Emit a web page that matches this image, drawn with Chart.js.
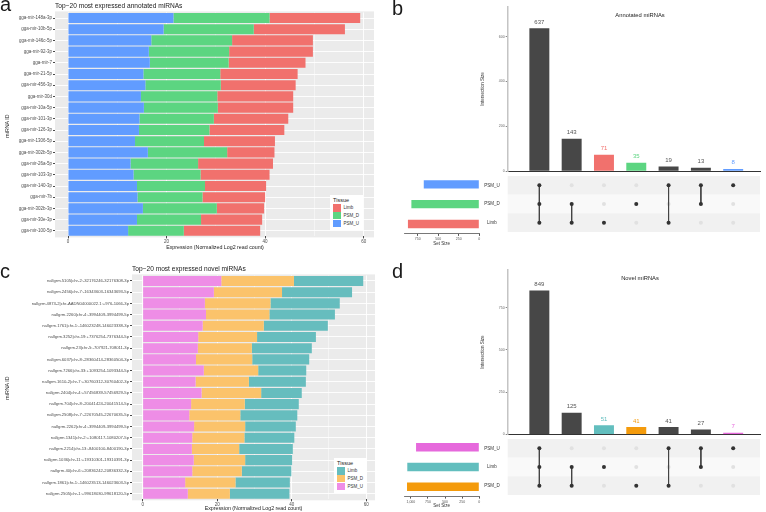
<!DOCTYPE html>
<html>
<head>
<meta charset="utf-8">
<script src="https://cdn.jsdelivr.net/npm/chart.js@4/dist/chart.umd.min.js"></script>
<style>
body{margin:0;width:766px;height:512px;position:relative;background:#fff;overflow:hidden;font-family:"Liberation Sans",Arial,sans-serif}
canvas{position:absolute}
.t{position:absolute;line-height:1;white-space:nowrap;color:#1a1a1a}
.lg{position:absolute;background:#fff;padding:2px 3px;width:27px;height:31px}
.lt{font-size:5.5px;line-height:7px;color:#1a1a1a}
.li{font-size:4.5px;line-height:7.8px;height:7.8px;display:flex;align-items:center;color:#333}
.li span{width:7.5px;height:7.5px;margin-right:3px;display:inline-block}
</style>
</head>
<body>
<canvas id="chartA" width="380" height="256" style="left:0;top:0"></canvas>
<canvas id="chartC" width="380" height="250" style="left:0;top:262px"></canvas>
<canvas id="barsB" width="286" height="176" style="left:480px;top:0"></canvas>
<canvas id="matB" width="286" height="64" style="left:480px;top:172px"></canvas>
<canvas id="setsB" width="90" height="74" style="left:395px;top:172px"></canvas>
<canvas id="barsD" width="286" height="176" style="left:480px;top:262px"></canvas>
<canvas id="matD" width="286" height="64" style="left:480px;top:435px"></canvas>
<canvas id="setsD" width="90" height="73" style="left:395px;top:435px"></canvas>
<script>
// --- dane: top-20 annotated miRNAs (a) ---
const annoLabels = ['gga-mir-148a-3p','gga-mir-10b-5p','gga-mir-146c-5p','gga-mir-92-3p','gga-mir-7',
  'gga-mir-21-5p','gga-mir-456-3p','gga-mir-30d','gga-mir-10a-5p','gga-mir-101-3p',
  'gga-mir-126-3p','gga-mir-1306-5p','gga-mir-302b-5p','gga-mir-26a-5p','gga-mir-103-3p',
  'gga-mir-140-3p','gga-mir-7b','gga-mir-302b-3p','gga-mir-30e-3p','gga-mir-100-5p'];
const annoPsmU = [21.4,19.4,16.9,16.4,16.6,15.3,15.7,14.8,15.4,14.5,14.4,13.6,16.2,12.7,13.3,14.0,14.1,15.2,14.0,12.2];
const annoPsmD = [19.5,18.3,16.4,16.3,16.0,15.6,15.3,15.5,15.0,15.1,14.3,14.0,16.1,13.7,13.6,13.8,13.2,15.0,13.0,11.3];
const annoLimb = [18.4,18.5,16.4,17.0,15.6,15.7,15.2,15.4,15.3,15.1,15.2,14.4,9.6,15.2,14.0,12.4,12.7,9.6,12.4,15.5];

// --- dane: top-20 novel miRNAs (c) ---
const novelLabels = ['nallgrm.5105|chr-2:-32176246-32176308-3p','nallgrm.2456|chr-7:-16343603-16343693-5p',
  'nallgrm.4873-2|chr-AADN04000022.1:+976-1066-3p','nallgrm.2260|chr-4:-3994409-3994499-5p',
  'nallgrm.1761|chr-1:-146023248-146023338-3p','nallgrm.3252|chr-19:+7376254-7376344-5p',
  'nallgrm.23|chr-5:-707921-708011-3p','nallgrm.6037|chr-8:-28360414-28360504-3p',
  'nallgrm.7266|chr-33:+1093254-1093344-5p','nallgrm.1610-2|chr-7:+30760312-30760402-3p',
  'nallgrm.2404|chr-4:+57456839-57456929-5p','nallgrm.704|chr-8:-20041424-20041514-5p',
  'nallgrm.2508|chr-7:-22670545-22670635-5p','nallgrm.2262|chr-4:-3994409-3994499-5p',
  'nallgrm.1341|chr-2:+1080117-1080207-5p','nallgrm.2214|chr-13:-8400100-8400190-3p',
  'nallgrm.1036|chr-11:+19310301-19310391-3p','nallgrm.40|chr-6:+20836242-20836332-3p',
  'nallgrm.1861|chr-1:-146023513-146023603-5p','nallgrm.2505|chr-1:+99618030-99618120-5p'];
const novelPsmU = [21.1,19.1,16.7,17.0,16.1,14.9,14.8,14.3,16.4,14.2,15.8,13.0,12.5,13.8,13.3,13.2,13.7,13.3,11.4,12.1];
const novelPsmD = [19.5,18.3,17.6,17.0,16.4,15.8,14.5,15.1,14.6,14.3,16.0,14.4,13.7,13.7,14.0,12.7,13.8,13.3,13.5,11.3];
const novelLimb = [18.6,18.8,18.6,17.6,17.2,15.8,16.1,15.3,12.9,15.3,10.9,14.5,15.3,13.6,13.4,14.4,12.6,13.3,14.6,16.0];

// --- dane: UpSet (b, d) ---
const annoSets = ['PSM_U','PSM_D','Limb'];
const annoSetSizes = [677, 828, 870];
const annoInter = [637, 143, 71, 35, 19, 13, 8];
const annoMembers = [[0,1,2],[1,2],[2],[1],[0,2],[0,1],[0]];

const novelSets = ['PSM_U','Limb','PSM_D'];
const novelSetSizes = [924, 1052, 1056];
const novelInter = [849, 125, 51, 41, 41, 27, 7];
const novelMembers = [[0,1,2],[1,2],[1],[2],[0,2],[0,1],[0]];

const xTicks = [0,10,20,30,40,50,60];

// kolory
const cRed = '#F1716D', cGreen = '#5CD581', cBlue = '#619CFF';
const cTeal = '#66BDBE', cOrange = '#FBC36B', cPink = '#EE8DE6';
const cTealD = '#62BEBE', cOrangeD = '#F49B0C', cPinkD = '#E669DC';
const cDark = '#474747';

Chart.defaults.font.family = '"Liberation Sans", Arial, sans-serif';
Chart.defaults.animation = false;
Chart.defaults.plugins.legend.display = false;
Chart.defaults.plugins.tooltip.enabled = false;

// szare tło panelu jak w ggplot
const panelBg = {
  id: 'panelBg',
  beforeDraw(chart) {
    const a = chart.chartArea, c = chart.ctx;
    c.save();
    c.fillStyle = '#EBEBEB';
    c.fillRect(a.left, a.top - 1, a.right - a.left, a.bottom - a.top + 2);
    c.restore();
  }
};

function stackChart(id, labels, series, g) {
  return new Chart(document.getElementById(id), {
    type: 'bar',
    data: {
      labels: labels,
      datasets: series.map(s => ({ label: s.name, data: s.data, backgroundColor: s.color,
        categoryPercentage: 0.9, barPercentage: 1, borderWidth: 0 }))
    },
    options: {
      indexAxis: 'y', responsive: false, devicePixelRatio: 1,
      layout: { padding: { top: g.top, right: g.right, left: 0, bottom: 0 } },
      scales: {
        x: {
          stacked: true, min: g.min, max: g.max,
          afterBuildTicks: s => { s.ticks = xTicks.map(v => ({ value: v })); },
          afterFit: s => { s.height = g.xh; },
          grid: {
            color: '#fff',
            lineWidth: c => (c.tick && c.tick.value % 20 === 0) ? 0.9 : 0.45,
            tickLength: 2,
            tickColor: c => (c.tick && c.tick.value % 20 === 0) ? '#333' : 'rgba(0,0,0,0)'
          },
          border: { display: false },
          ticks: { callback: v => v % 20 === 0 ? v : '', font: { size: 4.5 }, color: '#4D4D4D',
            padding: 1, maxRotation: 0, autoSkip: false }
        },
        y: {
          stacked: true,
          afterFit: s => { s.width = g.yw; },
          grid: { color: '#fff', lineWidth: 0.9, offset: false, tickLength: 2, tickColor: '#333' },
          border: { display: false },
          ticks: { font: { size: g.fs }, color: '#4D4D4D', padding: 1, autoSkip: false }
        }
      }
    },
    plugins: [panelBg]
  });
}

// etykiety nad słupkami przecięć
const barLabels = {
  id: 'barLabels',
  afterDatasetsDraw(chart, args, opts) {
    const ctx = chart.ctx, meta = chart.getDatasetMeta(0);
    ctx.save();
    ctx.font = '6px "Liberation Sans", Arial, sans-serif';
    ctx.textAlign = 'center';
    ctx.textBaseline = 'middle';
    meta.data.forEach((bar, i) => {
      ctx.fillStyle = opts.colors[i];
      ctx.fillText(chart.data.datasets[0].data[i].y, bar.x, bar.y - 6.5);
    });
    ctx.restore();
  }
};

function upsetBars(id, counts, colors, labelColors, g) {
  return new Chart(document.getElementById(id), {
    type: 'bar',
    data: { datasets: [{ data: counts.map((v, i) => ({ x: i + 1, y: v })), backgroundColor: colors, barThickness: 19.3 }] },
    options: {
      responsive: false, devicePixelRatio: 1,
      layout: { padding: { top: g.top, right: 6, bottom: g.bottom, left: 0 } },
      plugins: { barLabels: { colors: labelColors } },
      scales: {
        x: { type: 'linear', offset: false, min: 0.02, max: 7.83, afterFit: s => { s.height = 0; },
          ticks: { display: false }, grid: { display: false, offset: false }, border: { color: '#333', width: 1 } },
        y: {
          min: 0, max: g.max,
          afterBuildTicks: s => { s.ticks = g.ticks.map(v => ({ value: v })); },
          afterFit: s => { s.width = 27.7; },
          grid: { drawOnChartArea: false, tickLength: 2, color: '#888' },
          border: { color: '#C4C4C4', width: 1.5 },
          ticks: { font: { size: 3.5 }, color: '#666', padding: 1 },
          title: { display: true, text: 'Intersection Size', font: { size: 4.5 }, color: '#333', padding: 0 }
        }
      }
    },
    plugins: [barLabels]
  });
}

// pasy tła w macierzy
const bands = {
  id: 'bands',
  beforeDatasetsDraw(chart, args, opts) {
    const { ctx, chartArea: a, scales: { y } } = chart;
    ctx.save();
    opts.fills.forEach((f, i) => {
      const t = y.getPixelForValue(i + 0.5), b = y.getPixelForValue(i + 1.5);
      ctx.fillStyle = f;
      ctx.fillRect(a.left, Math.min(t, b), a.right - a.left, Math.abs(b - t));
    });
    ctx.restore();
  }
};

function upsetMatrix(id, sets, members, g) {
  const all = [];
  members.forEach((m, i) => sets.forEach((s, r) => all.push({ x: i + 1, y: r + 1 })));
  const lines = members.map((m, i) => ({
    data: m.map(r => ({ x: i + 1, y: r + 1 })), showLine: true,
    borderColor: '#444', borderWidth: 1, pointRadius: 2, pointBorderWidth: 0, pointBackgroundColor: '#333'
  }));
  return new Chart(document.getElementById(id), {
    type: 'scatter',
    data: { datasets: [...lines, { data: all, pointRadius: 2, pointBorderWidth: 0, pointBackgroundColor: '#E1E1E1' }] },
    options: {
      responsive: false, devicePixelRatio: 1,
      layout: { padding: { top: g.top, bottom: g.bottom, right: 6, left: 0 } },
      plugins: { bands: { fills: ['#F1F1F1', '#F9F9F9', '#F1F1F1'] } },
      scales: {
        x: { type: 'linear', min: 0.02, max: 7.83, display: false },
        y: {
          type: 'linear', min: 0.5, max: 3.5, reverse: true,
          afterBuildTicks: s => { s.ticks = sets.map((n, i) => ({ value: i + 1 })); },
          afterFit: s => { s.width = 27.7; },
          grid: { display: false }, border: { display: false },
          ticks: { callback: v => sets[v - 1], crossAlign: 'center', font: { size: 4.5 }, color: '#333', padding: 0 }
        }
      }
    },
    plugins: [bands]
  });
}

function setSizes(id, sets, sizes, colors, g) {
  return new Chart(document.getElementById(id), {
    type: 'bar',
    data: { labels: sets, datasets: [{ data: sizes, backgroundColor: colors, categoryPercentage: 0.42, barPercentage: 1 }] },
    options: {
      indexAxis: 'y', responsive: false, devicePixelRatio: 1,
      layout: { padding: { left: 9, right: 5.7, top: 2.4, bottom: 0 } },
      scales: {
        x: {
          reverse: true, min: 0, max: g.max,
          afterBuildTicks: s => { s.ticks = g.ticks.map(v => ({ value: v })); },
          afterFit: s => { s.height = g.xh; },
          grid: { drawOnChartArea: false, tickLength: 2, color: '#555' },
          border: { color: '#555', width: 0.8 },
          ticks: { font: { size: 3.5 }, color: '#555', padding: 1, maxRotation: 0, autoSkip: false },
          title: { display: true, text: 'Set Size', font: { size: 4.5 }, color: '#333', padding: 0 }
        },
        y: { display: false }
      }
    }
  });
}

// tekst HTML
function label(text, x, y, size, align, rotate) {
  const d = document.createElement('div');
  d.className = 't';
  d.textContent = text;
  d.style.left = x + 'px';
  d.style.top = y + 'px';
  d.style.fontSize = size + 'px';
  const tx = align === 'center' ? '-50%' : align === 'right' ? '-100%' : '0';
  d.style.transform = 'translate(' + tx + ',-50%)' + (rotate ? ' rotate(-90deg)' : '');
  document.body.appendChild(d);
}

function legend(x, y, items) {
  const box = document.createElement('div');
  box.className = 'lg';
  box.style.left = x + 'px';
  box.style.top = y + 'px';
  box.innerHTML = '<div class="lt">Tissue</div>' +
    items.map(it => '<div class="li"><span style="background:' + it.color + '"></span>' + it.name + '</div>').join('');
  document.body.appendChild(box);
}

// panel a
stackChart('chartA', annoLabels, [
  { name: 'PSM_U', data: annoPsmU, color: cBlue },
  { name: 'PSM_D', data: annoPsmD, color: cGreen },
  { name: 'Limb', data: annoLimb, color: cRed }
], { top: 12.4, right: 6, yw: 55, xh: 19.6, min: -2.64, max: 62.1, fs: 4.5 });

// panel c
stackChart('chartC', novelLabels, [
  { name: 'PSM_U', data: novelPsmU, color: cPink },
  { name: 'PSM_D', data: novelPsmD, color: cOrange },
  { name: 'Limb', data: novelLimb, color: cTeal }
], { top: 13.4, right: 5, yw: 132, xh: 12.7, min: -2.87, max: 62.36, fs: 4.2 });

// panel b
upsetBars('barsB', annoInter, [cDark, cDark, cRed, cGreen, cDark, cDark, cBlue],
  ['#555', '#555', cRed, cGreen, '#555', '#555', cBlue], { top: 7, bottom: 5, max: 733, ticks: [0, 200, 400, 600] });
upsetMatrix('matB', annoSets, annoMembers, { top: 2.4, bottom: 2.1 });
setSizes('setsB', annoSets, annoSetSizes, [cBlue, cGreen, cRed], { max: 918, ticks: [0, 250, 500, 750], xh: 12.1 });

// panel d
upsetBars('barsD', novelInter, [cDark, cDark, cTealD, cOrangeD, cDark, cDark, cPinkD],
  ['#555', '#555', cTealD, cOrangeD, '#555', '#555', cPinkD], { top: 8, bottom: 3.7, max: 973, ticks: [0, 250, 500, 750] });
upsetMatrix('matD', novelSets, novelMembers, { top: 2.4, bottom: 2.4 });
setSizes('setsD', novelSets, novelSetSizes, [cPinkD, cTealD, cOrangeD], { max: 1100, ticks: [0, 250, 500, 750, 1000], xh: 11.4 });

// tytuły i litery paneli
label('a', 0, 3.5, 20);
label('b', 392, 8, 20);
label('c', 0, 271.3, 20);
label('d', 392, 271.3, 20);
label('Top\u221220 most expressed annotated miRNAs', 55, 5.8, 6.6);
label('Top\u221220 most expressed novel miRNAs', 132, 268.5, 6.6);
label('Expression (Normalized Log2 read count)', 215, 247.5, 5.3, 'center');
label('Expression (Normalized Log2 read count)', 253.5, 508.5, 5.3, 'center');
label('miRNA ID', 8, 126, 5.3, 'center', true);
label('miRNA ID', 8, 388, 5.3, 'center', true);
label('Annotated miRNAs', 640, 15.7, 5.8, 'center');
label('Novel miRNAs', 640, 279, 5.8, 'center');

legend(330, 195, [{ name: 'Limb', color: cRed }, { name: 'PSM_D', color: cGreen }, { name: 'PSM_U', color: cBlue }]);
legend(334, 458, [{ name: 'Limb', color: cTeal }, { name: 'PSM_D', color: cOrange }, { name: 'PSM_U', color: cPink }]);
</script>
</body>
</html>
